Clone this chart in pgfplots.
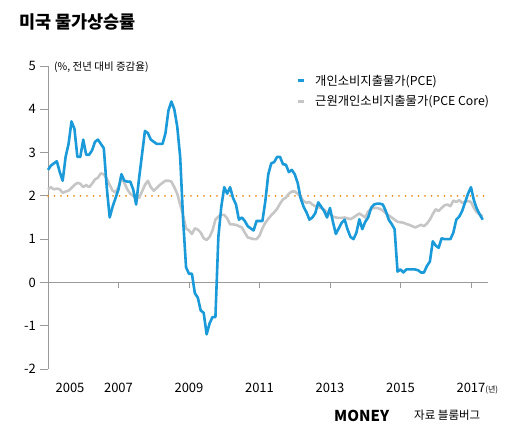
\documentclass[border=0pt]{standalone}
\usepackage{fontspec}
\setmainfont{Noto Sans CJK KR}
\usepackage{pgfplots}
\pgfplotsset{compat=1.18}
\usepackage{pgfplotstable}
\definecolor{pceblue}{HTML}{1A9AD9}
\definecolor{coregray}{HTML}{C6C6C6}
\definecolor{dotorange}{HTML}{E8901E}
\definecolor{axgray}{HTML}{9A9A9A}

\pgfplotstableread{
m pce core
0 2.6 2.15
1 2.7 2.2
2 2.75 2.15
3 2.8 2.17
4 2.55 2.15
5 2.35 2.07
6 2.9 2.1
7 3.2 2.12
8 3.72 2.18
9 3.55 2.25
10 2.9 2.3
11 2.9 2.28
12 3.3 2.2
13 2.95 2.25
14 2.95 2.2
15 3.05 2.28
16 3.25 2.38
17 3.3 2.42
18 3.2 2.52
19 3.1 2.5
20 2.2 2.4
21 1.5 2.25
22 1.75 2.12
23 1.95 2.08
24 2.15 2.2
25 2.5 2.42
26 2.35 2.3
27 2.33 2.15
28 2.33 2.05
29 2.15 2.0
30 1.8 1.97
31 2.4 1.95
32 2.95 2.1
33 3.5 2.25
34 3.45 2.35
35 3.3 2.2
36 3.25 2.12
37 3.2 2.18
38 3.2 2.25
39 3.2 2.3
40 3.45 2.35
41 3.97 2.35
42 4.18 2.33
43 4.0 2.2
44 3.6 2.05
45 2.9 1.8
46 1.45 1.55
47 0.35 1.25
48 0.2 1.2
49 0.2 1.12
50 -0.25 1.25
51 -0.35 1.22
52 -0.65 1.15
53 -0.7 1.02
54 -1.2 0.98
55 -0.95 1.05
56 -0.8 1.2
57 -0.8 1.45
58 1.05 1.52
59 1.75 1.56
60 2.2 1.56
61 2.05 1.48
62 2.2 1.34
63 1.95 1.34
64 1.8 1.33
65 1.45 1.3
66 1.5 1.27
67 1.42 1.15
68 1.3 1.04
69 1.25 1.02
70 1.2 1.0
71 1.42 1.0
72 1.42 1.08
73 1.42 1.25
74 1.88 1.38
75 2.5 1.47
76 2.75 1.55
77 2.78 1.62
78 2.9 1.7
79 2.9 1.82
80 2.73 1.92
81 2.72 1.96
82 2.55 2.05
83 2.6 2.1
84 2.5 2.1
85 2.3 2.05
86 1.95 1.98
87 1.75 1.88
88 1.62 1.84
89 1.45 1.86
90 1.5 1.8
91 1.6 1.76
92 1.85 1.74
93 1.75 1.72
94 1.65 1.68
95 1.5 1.62
96 1.72 1.58
97 1.4 1.52
98 1.12 1.5
99 1.25 1.49
100 1.38 1.49
101 1.45 1.5
102 1.22 1.48
103 1.05 1.46
104 1.0 1.5
105 1.15 1.55
106 1.46 1.59
107 1.23 1.55
108 1.4 1.5
109 1.5 1.64
110 1.72 1.7
111 1.8 1.72
112 1.82 1.72
113 1.82 1.7
114 1.8 1.66
115 1.65 1.6
116 1.45 1.55
117 1.35 1.5
118 1.23 1.45
119 0.25 1.4
120 0.3 1.39
121 0.23 1.38
122 0.3 1.35
123 0.3 1.33
124 0.3 1.3
125 0.3 1.27
126 0.28 1.3
127 0.23 1.33
128 0.23 1.3
129 0.38 1.36
130 0.48 1.45
131 0.95 1.58
132 0.85 1.69
133 0.8 1.65
134 1.02 1.72
135 1.0 1.78
136 1.0 1.8
137 1.0 1.76
138 1.15 1.89
139 1.45 1.86
140 1.52 1.9
141 1.65 1.84
142 1.85 1.86
143 2.05 1.88
144 2.2 1.86
145 1.9 1.72
146 1.7 1.62
147 1.57 1.57
148 1.45 1.53
}\datatable

\begin{document}
\begin{tikzpicture}[x=1pt,y=1pt]
\useasboundingbox (0,0) rectangle (520,436);
\node[anchor=west, font=\bfseries\fontsize{17.5}{19}\selectfont, inner sep=0pt] at (19,414) {미국 물가상승률};
\node[anchor=west, font=\fontsize{10.5}{12}\selectfont, inner sep=0pt] at (54,369) {(\%, 전년 대비 증감율)};
\node[anchor=west, font=\bfseries\fontsize{15}{17}\selectfont, inner sep=0pt] at (334,20) {MONEY};
\node[anchor=west, font=\fontsize{11.5}{13}\selectfont, inner sep=0pt] at (414,21) {자료 블룸버그};
\begin{axis}[at={(48pt,67pt)}, anchor=south west, scale only axis,
  width=440pt, height=303pt,
  xmin=0, xmax=149.8, ymin=-2, ymax=5,
  axis y line*=left, axis x line*=bottom,
  x axis line style={draw=none},
  y axis line style={draw=axgray, line width=0.8pt},
  tick align=outside, major tick length=8pt,
  ytick={-2,-1,0,1,2,3,4,5}, yticklabels={-2,-1,0,1,2,3,4,5},
  ytick style={draw=axgray, line width=0.8pt},
  yticklabel style={inner sep=0pt, xshift=-4pt},
  xtick={7.5,24,48,72,96,120,144},
  xticklabels={2005,2007,2009,2011,2013,2015,{2017\rlap{\fontsize{8}{9}\selectfont(년)}}},
  xtick style={draw=none},
  xticklabel style={anchor=base, yshift=-16pt},
  tick label style={font=\fontsize{13}{15}\selectfont},
  clip=false,
  reverse legend,
  legend cell align=left,
  legend style={at={(0.5636,0.978)}, anchor=north west, draw=none, fill=none,
    font=\fontsize{12.3}{14}\selectfont, row sep=5pt, inner sep=0pt,
    /tikz/every odd column/.append style={column sep=8pt}},
  legend image code/.code={\draw[#1, line width=3pt] (0pt,0pt) -- (6pt,0pt);},
]
\draw[axgray, line width=0.8pt] (axis cs:0,0) -- (axis cs:149.8,0);
\draw[axgray, line width=0.8pt] (axis cs:24,0) -- ++(0pt,-6pt);
\draw[axgray, line width=0.8pt] (axis cs:48,0) -- ++(0pt,-6pt);
\draw[axgray, line width=0.8pt] (axis cs:72,0) -- ++(0pt,-6pt);
\draw[axgray, line width=0.8pt] (axis cs:96,0) -- ++(0pt,-6pt);
\draw[axgray, line width=0.8pt] (axis cs:120,0) -- ++(0pt,-6pt);
\draw[axgray, line width=0.8pt] (axis cs:144,0) -- ++(0pt,-6pt);
\addplot[dotorange, line width=2pt, dash pattern=on 0pt off 6.5pt, line cap=round, forget plot] coordinates {(0,2) (149.8,2)};
\addplot[coregray, line width=2.6pt, line join=round] table[x=m,y=core]{\datatable};
\addlegendentry{근원개인소비지출물가(PCE Core)}
\addplot[pceblue, line width=2.6pt, line join=round] table[x=m,y=pce]{\datatable};
\addlegendentry{개인소비지출물가(PCE)}
\end{axis}
\end{tikzpicture}
\end{document}
